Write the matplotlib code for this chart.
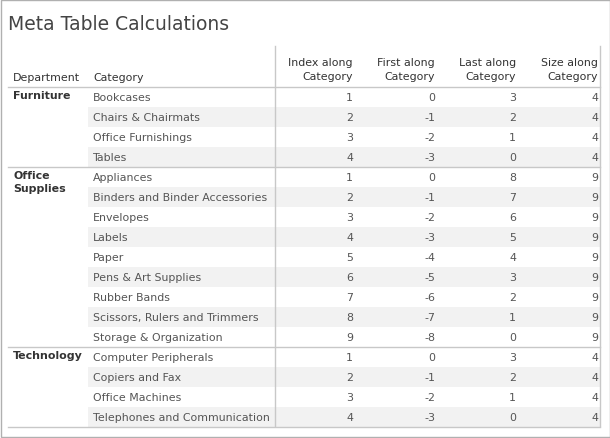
import matplotlib
matplotlib.use("Agg")
import matplotlib.pyplot as plt

departments = ["Furniture", "Office\nSupplies", "Technology"]
categories = [
    ["Bookcases", "Chairs & Chairmats", "Office Furnishings", "Tables"],
    ["Appliances", "Binders and Binder Accessories", "Envelopes", "Labels", "Paper",
     "Pens & Art Supplies", "Rubber Bands", "Scissors, Rulers and Trimmers", "Storage & Organization"],
    ["Computer Peripherals", "Copiers and Fax", "Office Machines", "Telephones and Communication"],
]
index_vals = [[1, 2, 3, 4], [1, 2, 3, 4, 5, 6, 7, 8, 9], [1, 2, 3, 4]]
first_vals = [[0, -1, -2, -3], [0, -1, -2, -3, -4, -5, -6, -7, -8], [0, -1, -2, -3]]
last_vals = [[3, 2, 1, 0], [8, 7, 6, 5, 4, 3, 2, 1, 0], [3, 2, 1, 0]]
size_vals = [[4, 4, 4, 4], [9] * 9, [4, 4, 4, 4]]
headers = ["Index along\nCategory", "First along\nCategory", "Last along\nCategory", "Size along\nCategory"]

fig = plt.figure(figsize=(6.1, 4.39), dpi=100)
ax = fig.add_axes([0, 0, 1, 1])
ax.set_xlim(0, 610)
ax.set_ylim(439, 0)
ax.axis("off")

txt = "#555555"
line = "#c8c8c8"
fs = 7.9
col_right = [353, 435, 516, 598]

# frame
ax.add_patch(plt.Rectangle((0.5, 0.5), 609, 438, fill=False, edgecolor="#b0b0b0", lw=1))
ax.text(8, 25, "Meta Table Calculations", fontsize=13.5, color="#444444", va="center")

# header
ax.text(13, 78, "Department", fontsize=fs, color="#333333", va="center")
ax.text(93, 78, "Category", fontsize=fs, color="#333333", va="center")
for x, h in zip(col_right, headers):
    ax.text(x, 70, h, fontsize=fs, color="#333333", va="center", ha="right", linespacing=1.5)
ax.plot([275, 275], [47, 427], color=line, lw=1)
ax.plot([600, 600], [47, 427], color=line, lw=1)

y = 88
row_h = 20
ax.plot([8, 600], [y, y], color=line, lw=1)
for g, dep in enumerate(departments):
    top = y
    ax.text(13, top + 3, dep, fontsize=fs, color="#333333", va="top", fontweight="bold", linespacing=1.4)
    for i, cat in enumerate(categories[g]):
        if i % 2 == 1:
            ax.add_patch(plt.Rectangle((88, y), 512, row_h, color="#f2f2f2", lw=0, zorder=0))
        cy = y + row_h / 2
        ax.text(93, cy, cat, fontsize=fs, color=txt, va="center")
        vals = [index_vals[g][i], first_vals[g][i], last_vals[g][i], size_vals[g][i]]
        for x, v in zip(col_right, vals):
            ax.text(x, cy, str(v), fontsize=fs, color=txt, va="center", ha="right")
        y += row_h
    ax.plot([8, 600], [y, y], color=line, lw=1)

fig.savefig("out.png", dpi=100)
